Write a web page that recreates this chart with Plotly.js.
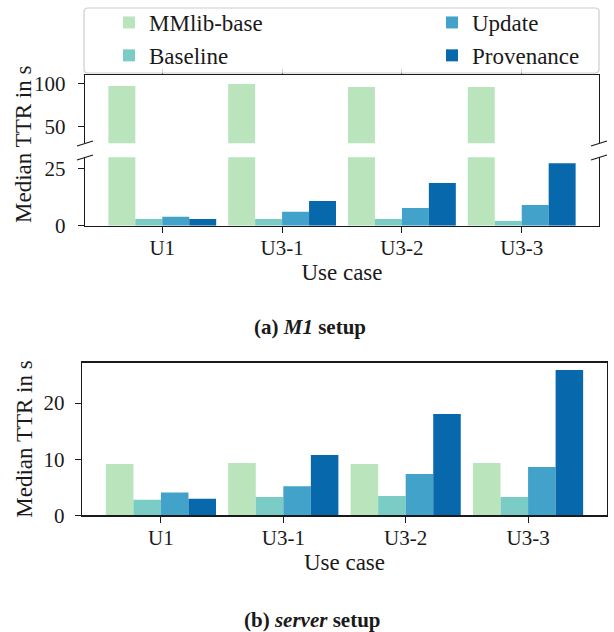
<!DOCTYPE html>
<html><head><meta charset="utf-8">
<script src="https://cdn.plot.ly/plotly-3.0.1.min.js"></script>
<style>html,body{margin:0;padding:0;background:#fff}#chart{width:614px;height:632px}</style>
</head><body><div id="chart"></div>
<script>
// ---- data ----
const categories = ['U1', 'U3-1', 'U3-2', 'U3-3'];
const seriesNames = ['MMlib-base', 'Baseline', 'Update', 'Provenance'];
// (a) M1 setup, median TTR in s
const m1MMlibBase  = [97.2, 99.6, 95.8, 95.8];
const m1Baseline   = [2.9, 2.9, 2.9, 2.1];
const m1Update     = [3.9, 6.1, 7.8, 9.1];
const m1Provenance = [2.9, 10.8, 18.7, 27.4];
// (b) server setup, median TTR in s
const serverMMlibBase  = [9.15, 9.3, 9.15, 9.3];
const serverBaseline   = [2.75, 3.25, 3.45, 3.25];
const serverUpdate     = [4.05, 5.2, 7.35, 8.6];
const serverProvenance = [2.95, 10.75, 18.05, 25.9];
// tick values
const upperTicks = [50, 100];
const lowerTicks = [0, 25];
const serverTicks = [0, 10, 20];

// ---- style ----
const colors = ['#bae4bc', '#7bccc4', '#43a2ca', '#0868ac'];
const FONT = 'Times New Roman, serif';
const INK = '#1a1a1a';
const W = 614, H = 632;
const fx = p => p / W;
const fy = p => 1 - p / H;

const m1Series = [m1MMlibBase, m1Baseline, m1Update, m1Provenance];
const serverSeries = [serverMMlibBase, serverBaseline, serverUpdate, serverProvenance];
const legendOf = ['legend', 'legend', 'legend2', 'legend2'];

const traces = [];
seriesNames.forEach((name, i) => traces.push({
  type: 'bar', name: name, x: categories, y: m1Series[i], xaxis: 'x', yaxis: 'y',
  marker: {color: colors[i], line: {width: 0}}, legend: legendOf[i], showlegend: true, hoverinfo: 'skip'
}));
seriesNames.forEach((name, i) => traces.push({
  type: 'bar', name: name, x: categories, y: m1Series[i], xaxis: 'x3', yaxis: 'y2',
  marker: {color: colors[i], line: {width: 0}}, showlegend: false, hoverinfo: 'skip'
}));
seriesNames.forEach((name, i) => traces.push({
  type: 'bar', name: name, x: categories, y: serverSeries[i], xaxis: 'x2', yaxis: 'y3',
  marker: {color: colors[i], line: {width: 0}}, showlegend: false, hoverinfo: 'skip'
}));

const axisCommon = {
  showgrid: false, zeroline: false, showline: true, linecolor: INK, linewidth: 1.3,
  ticks: 'outside', ticklen: 6, tickwidth: 1.1, tickcolor: INK,
  tickfont: {family: FONT, size: 21, color: INK}, fixedrange: true
};
const xRange = [-0.645, 3.645];

const breakLine = (x0, y0, x1, y1) => ({type: 'line', xref: 'paper', yref: 'paper',
  x0: fx(x0), y0: fy(y0), x1: fx(x1), y1: fy(y1), line: {color: INK, width: 1.3}, layer: 'above'});

// rounded legend frame (pixel box -> paper path)
function roundedFrame(x0, y0, x1, y1, r) {
  const X = fx, Y = fy;
  return 'M' + X(x0 + r) + ',' + Y(y0) + ' L' + X(x1 - r) + ',' + Y(y0) +
    ' Q' + X(x1) + ',' + Y(y0) + ' ' + X(x1) + ',' + Y(y0 + r) +
    ' L' + X(x1) + ',' + Y(y1 - r) +
    ' Q' + X(x1) + ',' + Y(y1) + ' ' + X(x1 - r) + ',' + Y(y1) +
    ' L' + X(x0 + r) + ',' + Y(y1) +
    ' Q' + X(x0) + ',' + Y(y1) + ' ' + X(x0) + ',' + Y(y1 - r) +
    ' L' + X(x0) + ',' + Y(y0 + r) +
    ' Q' + X(x0) + ',' + Y(y0) + ' ' + X(x0 + r) + ',' + Y(y0) + ' Z';
}

const titleFont = {family: FONT, size: 23, color: INK};

const layout = {
  width: W, height: H, margin: {l: 0, r: 0, t: 0, b: 0},
  paper_bgcolor: '#ffffff', plot_bgcolor: 'rgba(0,0,0,0)',
  barmode: 'group', bargap: 0.1, bargroupgap: 0,
  font: {family: FONT, color: INK},
  xaxis: Object.assign({}, axisCommon, {domain: [fx(85), fx(599)], anchor: 'y', type: 'category',
    range: xRange, ticklabelstandoff: -3, title: {text: 'Use case', font: titleFont, standoff: 2}}),
  xaxis3: Object.assign({}, axisCommon, {domain: [fx(85), fx(599)], anchor: 'y2', type: 'category',
    matches: 'x', side: 'top', showticklabels: false, ticklen: 5}),
  yaxis: Object.assign({}, axisCommon, {domain: [fy(225.7), fy(157.3)], anchor: 'x', range: [0, 30],
    tickvals: lowerTicks, mirror: true, ticklabelstandoff: 8}),
  yaxis2: Object.assign({}, axisCommon, {domain: [fy(143.3), fy(75)], anchor: 'x3', range: [30, 110],
    tickvals: upperTicks, mirror: true, ticklabelstandoff: 8}),
  xaxis2: Object.assign({}, axisCommon, {domain: [fx(82), fx(607)], anchor: 'y3', type: 'category',
    range: xRange, mirror: true, ticklabelstandoff: -3, title: {text: 'Use case', font: titleFont, standoff: 5}}),
  yaxis3: Object.assign({}, axisCommon, {domain: [fy(515.3), fy(362.7)], anchor: 'x2', range: [0, 27.2],
    tickvals: serverTicks, mirror: true, ticklabelstandoff: 6,
    title: {text: 'Median TTR in s', font: titleFont, standoff: 4}}),
  legend: {x: fx(109), y: fy(1), xanchor: 'left', yanchor: 'top', orientation: 'v',
    bgcolor: 'rgba(0,0,0,0)', borderwidth: 0, font: {family: FONT, size: 23, color: INK}},
  legend2: {x: fx(432), y: fy(1), xanchor: 'left', yanchor: 'top', orientation: 'v',
    bgcolor: 'rgba(0,0,0,0)', borderwidth: 0, font: {family: FONT, size: 23, color: INK}},
  shapes: [
    {type: 'path', xref: 'paper', yref: 'paper', path: roundedFrame(84, 8, 599, 73, 4),
      fillcolor: 'rgba(255,255,255,0.8)', line: {color: '#cccccc', width: 1.2}, layer: 'above'},
    breakLine(77, 146, 93, 141), breakLine(77, 160, 93, 155),
    breakLine(591, 146, 607, 141), breakLine(591, 160, 607, 155)
  ],
  annotations: [
    {text: 'Median TTR in s', xref: 'paper', yref: 'paper', x: fx(23), y: fy(145), textangle: -90,
      showarrow: false, xanchor: 'center', yanchor: 'middle', font: titleFont},
    {text: '<b>(a) <i>M1</i> setup</b>', xref: 'paper', yref: 'paper', x: fx(310), y: fy(327),
      showarrow: false, xanchor: 'center', yanchor: 'middle', font: {family: FONT, size: 21, color: INK}},
    {text: '<b>(b) <i>server</i> setup</b>', xref: 'paper', yref: 'paper', x: fx(312), y: fy(620),
      showarrow: false, xanchor: 'center', yanchor: 'middle', font: {family: FONT, size: 21, color: INK}}
  ]
};

Plotly.newPlot('chart', traces, layout, {staticPlot: true, displayModeBar: false});
</script>
</body></html>
